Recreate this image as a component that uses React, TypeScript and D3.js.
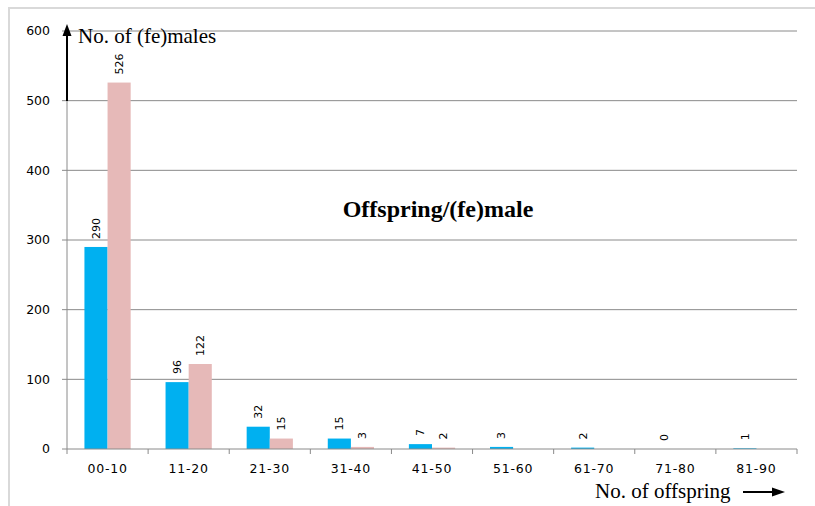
import React from 'react'
import * as d3 from 'd3'

const categories = ['00-10', '11-20', '21-30', '31-40', '41-50', '51-60', '61-70', '71-80', '81-90']
const males = [290, 96, 32, 15, 7, 3, 2, 0, 1]
const females: (number | null)[] = [526, 122, 15, 3, 2, null, null, null, null]
const yTicks = [0, 100, 200, 300, 400, 500, 600]

const W = 815
const H = 506
const left = 67
const right = 797
const top = 31
const bottom = 449

const BLUE = '#00B0F0'
const PINK = '#E6B9B8'
const GRID = '#8a8a8a'

export default function App() {
  const x = d3.scaleBand<string>().domain(categories).range([left, right]).paddingInner(0.43).paddingOuter(0.215)
  const y = d3.scaleLinear().domain([0, 600]).range([bottom, top])
  const bw = x.bandwidth() / 2
  const step = x.step()

  // one entry per drawn bar (females stop after 41-50)
  const bars: { cat: string; v: number; i: number; color: string }[] = []
  categories.forEach((c, k) => {
    bars.push({ cat: c, v: males[k], i: 0, color: BLUE })
    const f = females[k]
    if (f != null) bars.push({ cat: c, v: f, i: 1, color: PINK })
  })

  return (
    <svg width={W} height={H} style={{ position: 'absolute', left: 0, top: 0, background: '#fff' }}>
      {/* outer frame */}
      <rect x={9} y={8} width={W + 10} height={H + 10} fill="none" stroke="#d9d9d9" strokeWidth={2} />

      {/* grid */}
      {yTicks.filter(t => t > 0).map(t => (
        <line key={t} x1={left} x2={right} y1={y(t)} y2={y(t)} stroke={GRID} strokeWidth={1} />
      ))}
      {/* y axis */}
      <line x1={left} x2={left} y1={top} y2={bottom} stroke={GRID} />
      {yTicks.map(t => (
        <g key={t}>
          <line x1={left - 5} x2={left} y1={y(t)} y2={y(t)} stroke={GRID} />
          <text x={50} y={y(t)} dy="0.35em" textAnchor="end" fontFamily="DejaVu Sans" fontSize={12.5} fill="#000">
            {t}
          </text>
        </g>
      ))}

      {/* bars */}
      {bars.map((b, k) => {
        const bx = (x(b.cat) as number) + b.i * bw
        return (
          <rect key={k} x={bx} y={y(b.v)} width={bw} height={Math.max(0, bottom - y(b.v))} fill={b.color} />
        )
      })}

      {/* x axis */}
      <line x1={left} x2={right} y1={bottom} y2={bottom} stroke={GRID} />
      {d3.range(categories.length + 1).map(k => {
        const tx = left + k * step
        return <line key={k} x1={tx} x2={tx} y1={bottom} y2={bottom + 5} stroke={GRID} />
      })}
      {categories.map(c => (
        <text key={c} x={(x(c) as number) + x.bandwidth() / 2} y={473} textAnchor="middle" fontFamily="DejaVu Sans" fontSize={12.5} letterSpacing={0.8} fill="#000">
          {c}
        </text>
      ))}

      {/* data labels */}
      {bars.map((b, k) => {
        const cx = (x(b.cat) as number) + b.i * bw + bw / 2
        const ty = y(b.v) - 8
        return (
          <text key={k} transform={`translate(${cx},${ty}) rotate(-90)`} dy="0.35em" fontFamily="DejaVu Sans" fontSize={11} fill="#000">
            {b.v}
          </text>
        )
      })}

      {/* title */}
      <text x={438} y={217} textAnchor="middle" fontFamily="Liberation Serif" fontWeight="bold" fontSize={24} fill="#000">
        Offspring/(fe)male
      </text>

      {/* y arrow */}
      <line x1={left} x2={left} y1={101} y2={32} stroke="#000" strokeWidth={2} />
      <path d={`M${left - 4.5},36 L${left},24 L${left + 4.5},36 Z`} fill="#000" />
      <text x={78} y={43} fontFamily="Liberation Serif" fontSize={21} fill="#000">No. of (fe)males</text>

      {/* x arrow */}
      <text x={595} y={498} fontFamily="Liberation Serif" fontSize={21} fill="#000">No. of offspring</text>
      <line x1={743} x2={775} y1={492} y2={492} stroke="#000" strokeWidth={2} />
      <path d={`M772,487.5 L785,492 L772,496.5 Z`} fill="#000" />
    </svg>
  )
}
